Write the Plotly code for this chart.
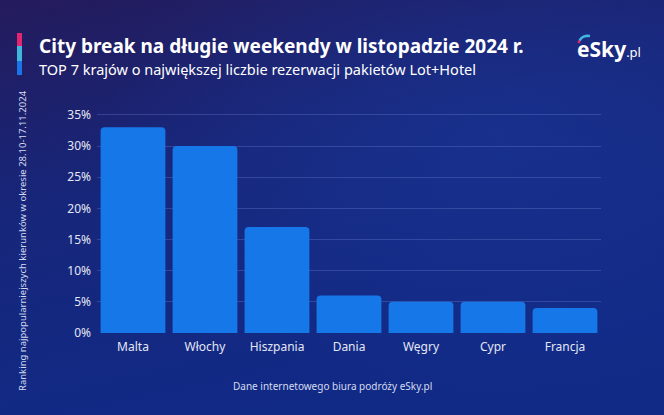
import plotly.graph_objects as go
import base64

countries = ["Malta", "Włochy", "Hiszpania", "Dania", "Węgry", "Cypr", "Francja"]
shares = [33, 30, 17, 6, 5, 5, 4]
tick_vals = [0, 5, 10, 15, 20, 25, 30, 35]
tick_text = ["0%", "5%", "10%", "15%", "20%", "25%", "30%", "35%"]

title = "City break na długie weekendy w listopadzie 2024 r."
subtitle = "TOP 7 krajów o największej liczbie rezerwacji pakietów Lot+Hotel"
y_title = "Ranking najpopularniejszych kierunków w okresie 28.10-17.11.2024"
footer = "Dane internetowego biura podróży eSky.pl"

svg = """<svg xmlns='http://www.w3.org/2000/svg' width='664' height='415'>
<defs>
<linearGradient id='g' x1='0' y1='0' x2='0.35' y2='1'>
<stop offset='0' stop-color='#241b5c'/>
<stop offset='0.45' stop-color='#17267a'/>
<stop offset='1' stop-color='#112a86'/>
</linearGradient>
<radialGradient id='r' cx='0.75' cy='0.35' r='0.6'>
<stop offset='0' stop-color='#1a3a9e' stop-opacity='0.5'/>
<stop offset='1' stop-color='#1a3a9e' stop-opacity='0'/>
</radialGradient>
</defs>
<rect width='664' height='415' fill='url(#g)'/>
<rect width='664' height='415' fill='url(#r)'/>
</svg>"""
bg_src = "data:image/svg+xml;base64," + base64.b64encode(svg.encode()).decode()

fig = go.Figure()
fig.add_trace(go.Bar(
    x=countries, y=shares,
    marker=dict(color="#1677e8", line=dict(width=0), cornerradius=4),
    hoverinfo="skip",
))

fig.update_layout(
    width=664, height=415,
    margin=dict(l=97, r=63, t=113, b=82),
    paper_bgcolor="#1a2270",
    plot_bgcolor="rgba(0,0,0,0)",
    bargap=0.1,
    showlegend=False,
    font=dict(family="Noto Sans, Open Sans, sans-serif", color="#dfe3f3"),
    images=[dict(source=bg_src, xref="paper", yref="paper", x=-97/504, y=1+113/220,
                 sizex=664/504, sizey=415/220, xanchor="left", yanchor="top",
                 sizing="stretch", layer="below")],
    xaxis=dict(showgrid=False, zeroline=False, showline=False,
               tickfont=dict(size=12, color="#e4e7f5"), ticks="", ticklen=0,
               ticklabelstandoff=5),
    yaxis=dict(range=[0, 35.3], tickvals=tick_vals, ticktext=tick_text,
               showgrid=True, gridcolor="rgba(120,140,220,0.3)", gridwidth=1,
               zeroline=False, showline=False,
               tickfont=dict(size=12, color="#e4e7f5"), ticks="", ticklen=0,
               ticklabelstandoff=5),
)

def px(xp, yp):
    return (xp - 97) / 504, (333 - yp) / 220

def px_rect(x0, y0, x1, y1, color):
    return dict(type="rect", xref="paper", yref="paper",
                x0=(x0 - 97) / 504, x1=(x1 - 97) / 504,
                y0=(333 - y1) / 220, y1=(333 - y0) / 220,
                fillcolor=color, line=dict(width=0), layer="above")

def px_path(points, color, width):
    d = ""
    for i, (a, b) in enumerate(points):
        xx, yy = px(a, b)
        d += ("M" if i == 0 else "L") + f"{xx:.5f},{yy:.5f} "
    return dict(type="path", xref="paper", yref="paper", path=d,
                line=dict(color=color, width=width), layer="above")

shapes = [
    px_rect(17, 33, 22, 46, "#e5246f"),
    px_rect(17, 46, 22, 61, "#3fb6dd"),
    px_rect(17, 61, 22, 75, "#1a74e6"),
    px_path([(578.5, 43), (579.5, 40.5)], "#e5246f", 2.5),
    px_path([(579.5, 40.5), (581.5, 38), (584, 36.5), (587, 35.8), (590, 36)], "#3fb6dd", 2.5),
]
fig.update_layout(shapes=shapes)

annos = []
x, y = px(37, 46)
annos.append(dict(text="<b>" + title + "</b>", x=x, y=y, xref="paper", yref="paper",
                  xanchor="left", yanchor="middle", showarrow=False,
                  font=dict(size=19, color="white", family="Noto Sans")))
x, y = px(37, 69)
annos.append(dict(text=subtitle, x=x, y=y, xref="paper", yref="paper",
                  xanchor="left", yanchor="middle", showarrow=False,
                  font=dict(size=14.5, color="white", family="Noto Sans")))
x, y = px(575, 49)
annos.append(dict(text="<b>eSky</b><span style='font-size:13px'>.pl</span>", x=x, y=y,
                  xref="paper", yref="paper", xanchor="left", yanchor="middle",
                  showarrow=False, font=dict(size=21, color="white", family="Noto Sans")))
x, y = px(22, 241)
annos.append(dict(text=y_title, x=x, y=y, xref="paper", yref="paper", textangle=-90,
                  xanchor="center", yanchor="middle", showarrow=False,
                  font=dict(size=9.5, color="#d5daf0", family="Noto Sans")))
x, y = px(332, 386)
annos.append(dict(text=footer, x=x, y=y, xref="paper", yref="paper",
                  xanchor="center", yanchor="middle", showarrow=False,
                  font=dict(size=10, color="#d5daf0", family="Noto Sans")))
fig.update_layout(annotations=annos)

fig.write_html("out.html")
